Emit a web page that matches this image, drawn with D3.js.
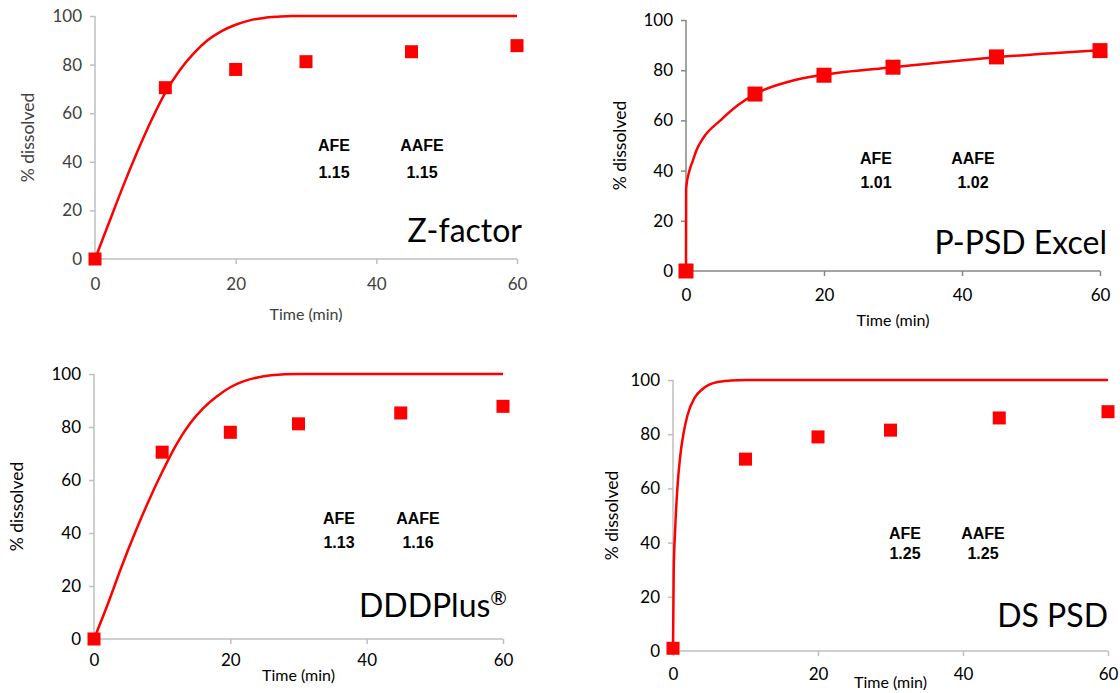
<!DOCTYPE html>
<html>
<head>
<meta charset="utf-8">
<script src="https://cdn.jsdelivr.net/npm/d3@7"></script>
<style>
  body { margin: 0; background: #fff; }
  svg { display: block; }
  .tick text { font-family: Lato, "Open Sans", sans-serif; }
</style>
</head>
<body>
<div id="chart"></div>
<script>
// observed dissolution (same experiment in all four panels)
var obsTime = [0, 10, 20, 30, 45, 60];
var obsPct = [0, 70.5, 78, 81.2, 85.3, 87.8];
var obsPctDS = [1, 70.8, 79, 81.5, 86, 88.3];

// predicted curves
var zTime = [0, 2, 4, 6, 8, 10, 12, 14, 16, 18, 20, 22, 24, 26, 28, 60];
var zPct = [0, 15, 30, 44, 57, 68.5, 77.5, 84.5, 90, 93.8, 96.4, 98.2, 99.2, 99.7, 100, 100];

var ppsdTime = [0, 0.02, 0.5, 1, 1.5, 2.5, 5, 7.5, 10, 15, 20, 30, 45, 60];
var ppsdPct = [0, 33, 40, 44, 48, 53, 60, 66, 70.5, 75.5, 78.2, 81.2, 85.2, 88];

var dddTime = [0, 2, 4, 6, 8, 10, 12, 14, 16, 18, 20, 22, 24, 26, 28, 30, 60];
var dddPct = [0, 13, 27, 40, 52, 63, 73, 81, 87, 91.5, 95, 97.3, 98.7, 99.5, 99.9, 100, 100];

var dsTime = [0, 0.1, 0.3, 0.6, 1, 1.5, 2, 3, 4, 5, 6, 8, 10, 60];
var dsPct = [0, 30, 45, 60, 72, 81, 87, 93.5, 96.5, 98.3, 99.2, 99.8, 100, 100];

var xTicks = [0, 20, 40, 60];
var yTicks = [0, 20, 40, 60, 80, 100];

var afeValues = ["1.15", "1.01", "1.13", "1.25"];
var aafeValues = ["1.15", "1.02", "1.16", "1.25"];
var panelNames = ["Z-factor", "P-PSD Excel", "DDDPlus", "DS PSD"];

var svgWidth = 1120;
var svgHeight = 693;

var svg = d3.select("#chart")
    .append("svg")
    .attr("width", svgWidth)
    .attr("height", svgHeight);

// layout of each panel (pixel boxes of the plot areas)
var panels = [
  {x0: 95, x1: 517, y0: 259, y1: 16, axisColor: "#bfbfbf", tickColor: "#404040",
   curveT: zTime, curveP: zPct, obsP: obsPct, marker: 13,
   tickLabelY: 28, titleY: 61, yLabelX: 28,
   afeX: 334, aafeX: 422, afeY: 145, valY: 172, nameY: 242, nameX: 522},
  {x0: 686, x1: 1100, y0: 271, y1: 20, axisColor: "#868686", tickColor: "#000",
   curveT: ppsdTime, curveP: ppsdPct, obsP: obsPct, marker: 15,
   tickLabelY: 27, titleY: 55, yLabelX: 620,
   afeX: 876, aafeX: 973, afeY: 158, valY: 182, nameY: 254, nameX: 1107},
  {x0: 94, x1: 503, y0: 639, y1: 374, axisColor: "#bfbfbf", tickColor: "#000",
   curveT: dddTime, curveP: dddPct, obsP: obsPct, marker: 13,
   tickLabelY: 24, titleY: 42, yLabelX: 17,
   afeX: 339, aafeX: 418, afeY: 518, valY: 542, nameY: 617, nameX: 507},
  {x0: 673, x1: 1108, y0: 651, y1: 380, axisColor: "#bfbfbf", tickColor: "#000",
   curveT: dsTime, curveP: dsPct, obsP: obsPctDS, marker: 13,
   tickLabelY: 26, titleY: 37, yLabelX: 612,
   afeX: 905, aafeX: 983, afeY: 533, valY: 553, nameY: 627, nameX: 1108}
];

panels.forEach(function(p, i) {
    var xScale = d3.scaleLinear().domain([0, 60]).range([p.x0, p.x1]);
    var yScale = d3.scaleLinear().domain([0, 100]).range([p.y0, p.y1]);

    var g = svg.append("g");
    var textColor = p.tickColor === "#000" ? "#000" : "#404040";

    // x axis
    var xAxis = g.append("g")
        .attr("transform", `translate(0, ${p.y0})`)
        .call(d3.axisBottom(xScale).tickValues(xTicks).tickSize(5).tickPadding(p.tickLabelY - 14));
    // y axis
    var yAxis = g.append("g")
        .attr("transform", `translate(${p.x0}, 0)`)
        .call(d3.axisLeft(yScale).tickValues(yTicks).tickSize(5).tickPadding(8));

    [xAxis, yAxis].forEach(function(ax) {
        ax.select(".domain").attr("stroke", p.axisColor).attr("stroke-width", 1.5);
        ax.selectAll(".tick line").attr("stroke", p.axisColor).attr("stroke-width", 1.5);
        ax.selectAll(".tick text")
            .attr("fill", p.tickColor)
            .style("font-size", "17px");
    });
    // plain axis lines, no end stubs
    xAxis.select(".domain").attr("d", `M${p.x0},0H${p.x1}`);
    yAxis.select(".domain").attr("d", `M0,${p.y0}V${p.y1}`);

    // axis titles
    g.append("text")
        .attr("x", (p.x0 + p.x1) / 2)
        .attr("y", p.y0 + p.titleY)
        .attr("text-anchor", "middle")
        .attr("font-family", "Lato, 'Open Sans', sans-serif")
        .attr("font-size", 16)
        .attr("fill", textColor)
        .text("Time (min)");

    g.append("text")
        .attr("transform", `translate(${p.yLabelX}, ${(p.y0 + p.y1) / 2}) rotate(-90)`)
        .attr("text-anchor", "middle")
        .attr("dy", "0.35em")
        .attr("font-family", "Lato, 'Open Sans', sans-serif")
        .attr("font-size", 17.5)
        .attr("fill", textColor)
        .text("% dissolved");

    // predicted curve
    var line = d3.line()
        .x(function(d) { return xScale(d[0]); })
        .y(function(d) { return yScale(d[1]); })
        .curve(d3.curveMonotoneX);

    g.append("path")
        .datum(d3.zip(p.curveT, p.curveP))
        .attr("d", line)
        .attr("fill", "none")
        .attr("stroke", "#ff0000")
        .attr("stroke-width", 2.5);

    // observed points
    g.selectAll("rect.obs")
        .data(d3.zip(obsTime, p.obsP))
        .enter()
        .append("rect")
        .attr("class", "obs")
        .attr("x", function(d) { return xScale(d[0]) - p.marker / 2; })
        .attr("y", function(d) { return yScale(d[1]) - p.marker / 2; })
        .attr("width", p.marker)
        .attr("height", p.marker)
        .attr("fill", "#ff0000");

    // AFE / AAFE annotations
    var ann = [
        {x: p.afeX, y: p.afeY, t: "AFE"},
        {x: p.afeX, y: p.valY, t: afeValues[i]},
        {x: p.aafeX, y: p.afeY, t: "AAFE"},
        {x: p.aafeX, y: p.valY, t: aafeValues[i]}
    ];
    g.selectAll("text.ann")
        .data(ann)
        .enter()
        .append("text")
        .attr("class", "ann")
        .attr("x", function(d) { return d.x; })
        .attr("y", function(d) { return d.y; })
        .attr("dy", "0.35em")
        .attr("text-anchor", "middle")
        .attr("font-family", "'Liberation Sans', Arial, sans-serif")
        .attr("font-weight", "bold")
        .attr("font-size", 16)
        .attr("fill", "#000")
        .text(function(d) { return d.t; });

    // big panel name
    var name = g.append("text")
        .attr("x", p.nameX)
        .attr("y", p.nameY)
        .attr("text-anchor", "end")
        .attr("font-family", "Lato, 'Open Sans', sans-serif")
        .attr("font-size", 32)
        .attr("fill", "#000")
        .text(panelNames[i]);
    if (i === 2) {
        name.append("tspan")
            .attr("font-size", 20)
            .attr("dy", -12)
            .text("®");
    }
});
</script>
</body>
</html>
